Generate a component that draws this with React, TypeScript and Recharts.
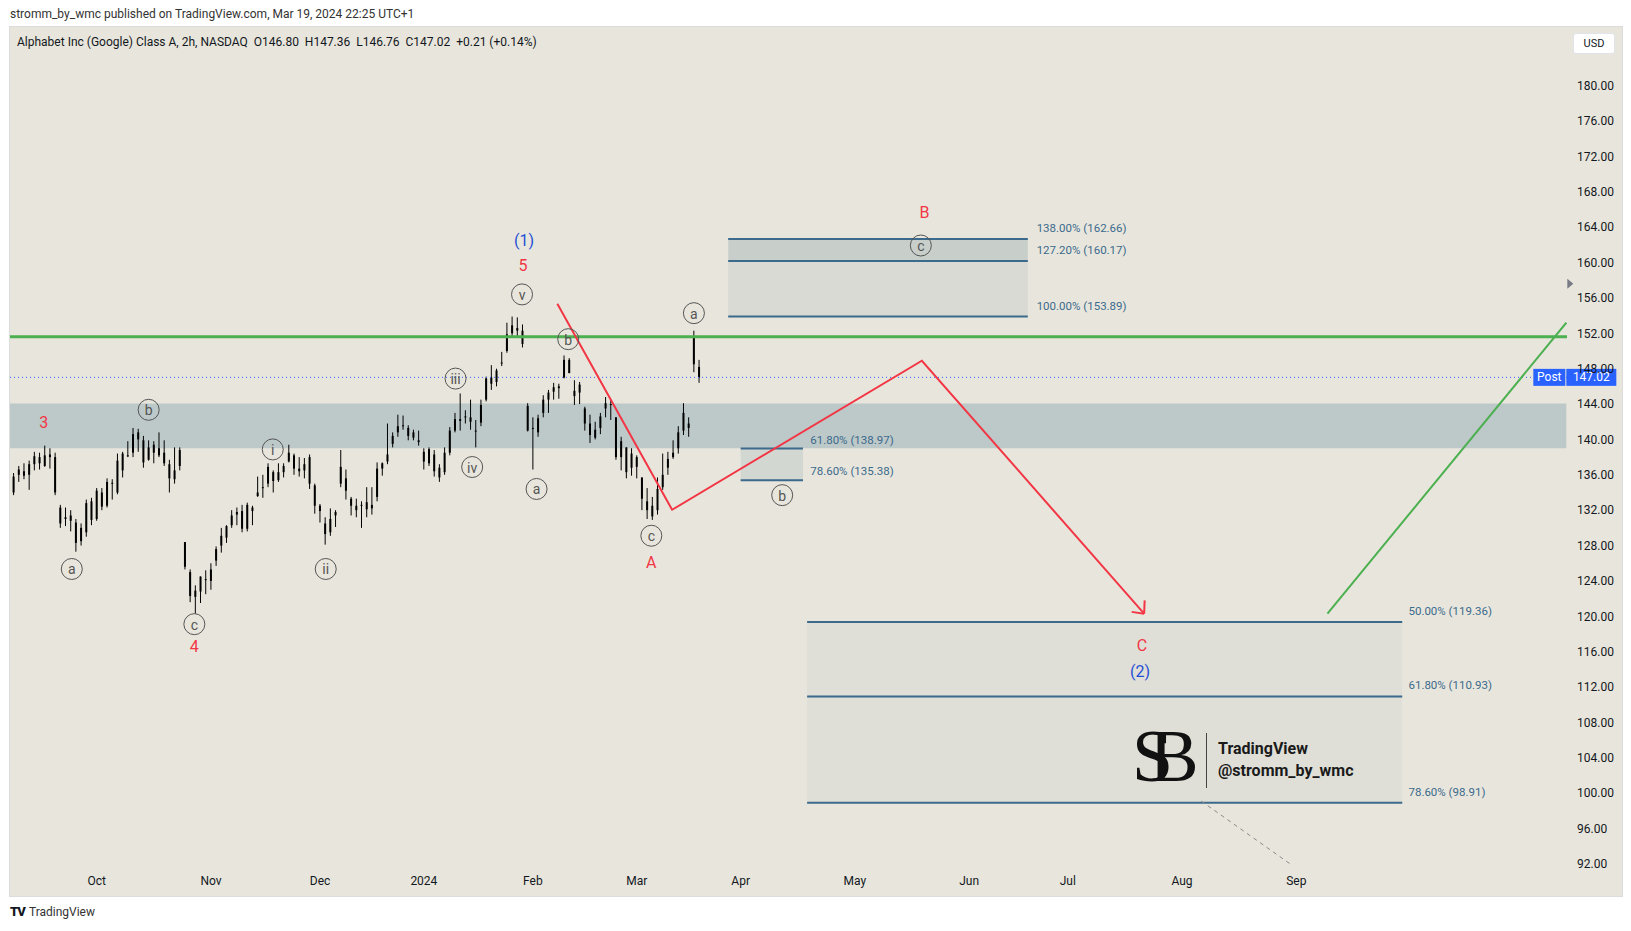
import {
  Bar,
  ComposedChart,
  Line,
  ReferenceArea,
  ReferenceDot,
  ReferenceLine,
  XAxis,
  YAxis,
} from 'recharts';

// trading-day index: 0 = Oct 2 2023, first candle is Sep 8 2023
const FIRST_DAY = -16;

const OPEN = [
  134.0, 136.0, 136.4, 136.0, 137.2, 138.0, 137.0, 138.3, 138.0, 132.3,
  131.0, 130.8, 130.6, 128.5, 129.5, 133.0, 131.0, 134.0, 132.5, 135.0,
  134.0, 136.5, 138.2, 138.5, 140.8, 139.9, 137.7, 138.5, 139.0, 138.5,
  137.2, 135.5, 137.0, 128.4, 125.0, 122.9, 122.8, 124.2, 124.0, 126.3,
  128.0, 128.9, 130.3, 131.5, 131.9, 129.9, 132.3, 134.0, 134.5, 135.0,
  136.3, 135.4, 136.3, 137.5, 138.2, 136.7, 136.5, 138.0, 134.8, 132.5,
  130.5, 129.5, 131.8, 135.0, 135.6, 132.5, 132.0, 132.5, 132.9, 132.2,
  133.5, 136.7, 137.5, 139.5, 140.8, 141.6, 141.3, 140.8, 139.9, 138.6,
  137.3, 138.3, 136.8, 136.3, 138.5, 141.0, 142.3, 142.5, 142.0, 141.0,
  141.9, 144.5, 147.0, 146.5, 148.6, 150.0, 152.0, 152.6, 152.3, 143.8,
  141.3, 140.8, 143.0, 144.5, 145.4, 145.8, 147.0, 149.0, 145.5, 145.3,
  143.5, 141.8, 140.2, 141.3, 143.5, 144.0, 142.5, 138.0, 139.1, 136.8,
  138.0, 135.7, 133.0, 132.5, 132.0, 134.6, 136.8, 138.0, 139.0, 141.0,
  141.8, 151.5, 148.2,
];
const HIGH = [
  136.2, 137.0, 137.3, 137.6, 138.6, 138.5, 139.3, 139.0, 138.5, 132.6,
  132.3, 132.0, 131.0, 130.5, 133.2, 133.4, 134.5, 134.5, 135.6, 135.5,
  138.4, 138.6, 139.8, 141.3, 141.2, 140.4, 139.9, 139.8, 140.8, 139.9,
  137.7, 139.1, 139.1, 128.4, 125.3, 123.5, 124.5, 125.2, 126.0, 127.9,
  130.0, 130.3, 132.0, 132.3, 132.6, 132.85, 132.5, 135.8, 136.0, 137.3,
  136.5, 137.3, 137.3, 139.4, 138.4, 138.0, 137.9, 138.3, 135.0, 132.7,
  131.2, 132.2, 132.0, 138.8, 136.6, 133.5, 133.3, 133.0, 134.6, 134.6,
  137.4, 137.4, 141.8, 140.8, 142.8, 142.7, 141.6, 141.1, 141.0, 139.0,
  139.1, 138.8, 137.2, 139.1, 141.4, 143.0, 145.2, 143.3, 144.5, 142.2,
  144.5, 147.1, 148.4, 148.0, 149.9, 153.2, 153.9, 153.8, 153.0, 144.1,
  142.5, 142.8, 145.0, 145.6, 146.4, 146.3, 149.5, 149.2, 146.7, 146.5,
  143.7, 142.8, 142.0, 143.0, 144.8, 144.5, 142.5, 140.3, 139.1, 139.0,
  138.2, 135.7, 134.5, 133.5, 135.7, 138.4, 138.6, 139.9, 141.5, 144.1,
  142.5, 152.3, 149.0,
];
const LOW = [
  133.7, 135.2, 135.5, 134.3, 136.5, 136.6, 136.9, 136.7, 133.7, 130.0,
  130.2, 129.6, 127.3, 128.0, 129.0, 130.3, 130.8, 132.0, 132.3, 133.2,
  133.8, 135.7, 138.0, 138.0, 138.6, 136.8, 137.6, 137.3, 138.0, 137.0,
  134.0, 135.0, 136.5, 125.3, 121.6, 120.3, 121.5, 122.5, 123.0, 125.7,
  127.2, 128.3, 130.0, 130.3, 129.5, 129.6, 130.3, 133.5, 133.4, 134.6,
  134.0, 135.2, 135.7, 137.4, 136.0, 135.8, 135.6, 134.4, 131.6, 130.6,
  128.1, 129.1, 130.1, 134.6, 133.2, 131.4, 131.2, 130.0, 131.2, 131.5,
  133.0, 135.9, 137.2, 139.1, 140.3, 141.1, 139.9, 139.9, 139.3, 136.6,
  137.0, 135.8, 135.2, 136.0, 138.2, 140.8, 141.0, 141.8, 141.1, 139.1,
  141.5, 144.3, 145.6, 146.0, 148.3, 149.8, 151.6, 151.5, 150.4, 140.9,
  136.6, 140.3, 142.5, 143.0, 144.5, 144.6, 146.9, 147.5, 143.9, 144.0,
  141.0, 139.6, 140.0, 140.6, 142.5, 142.2, 137.7, 136.5, 135.6, 135.9,
  135.6, 132.0, 131.0, 130.9, 131.5, 134.3, 136.0, 137.8, 138.4, 140.5,
  140.3, 147.6, 146.4,
];
const CLOSE = [
  135.8, 136.6, 135.9, 137.2, 138.1, 137.3, 138.2, 138.0, 134.0, 130.5,
  131.2, 131.4, 128.3, 130.0, 132.8, 130.9, 134.2, 132.4, 135.2, 135.1,
  137.6, 138.4, 138.1, 140.6, 140.0, 137.4, 139.1, 139.4, 138.2, 137.3,
  135.6, 136.5, 138.8, 125.6, 122.3, 122.2, 124.5, 124.1, 125.3, 127.6,
  129.1, 130.2, 131.4, 131.8, 129.9, 132.6, 131.9, 133.6, 134.6, 136.9,
  135.3, 136.3, 137.0, 138.5, 136.7, 136.4, 137.2, 135.0, 132.5, 131.9,
  129.3, 131.0, 131.4, 136.9, 134.2, 133.3, 132.5, 132.6, 132.1, 132.6,
  136.7, 137.3, 138.3, 140.4, 141.5, 141.5, 140.4, 140.2, 139.7, 137.5,
  138.9, 136.4, 135.7, 138.5, 141.0, 142.3, 142.1, 142.6, 142.5, 140.9,
  143.9, 146.9, 146.3, 147.8, 148.7, 151.9, 152.9, 152.3, 150.8, 141.0,
  141.2, 142.4, 144.5, 145.3, 145.9, 146.0, 149.0, 147.5, 144.9, 146.2,
  141.8, 140.5, 141.1, 142.6, 144.1, 143.9, 138.0, 139.8, 136.3, 138.4,
  136.9, 133.3, 132.0, 131.3, 134.4, 136.0, 137.8, 138.5, 140.8, 143.0,
  141.3, 148.5, 147.02,
];

const MONTH_TICKS = [0, 22, 43, 63, 84, 104, 124, 146, 168, 187, 209, 231];
const MONTH_LABELS = ['Oct', 'Nov', 'Dec', '2024', 'Feb', 'Mar', 'Apr', 'May', 'Jun', 'Jul', 'Aug', 'Sep'];
const PRICE_TICKS = [92, 96, 100, 104, 108, 112, 116, 120, 124, 128, 132, 136, 140, 144, 148, 152, 156, 160, 164, 168, 172, 176, 180];

const LAST_PRICE = 147.02;
const RESISTANCE = 151.6;
const ZONE = [139.0, 144.05];

// projected path drawn by the author
const RED_X = [88.7, 110.8, 158.9, 201.7];
const RED_Y = [155.35, 132.05, 148.9, 120.3];
const GREEN_X = [237, 283];
const GREEN_Y = [120.3, 153.2];
const DASH_X = [212.7, 229.7];
const DASH_Y = [99.1, 92.05];

// fib tools: [pct labels], [prices], [x from, x to, label x]
const FIB_UP_PCT = ['138.00%', '127.20%', '100.00%'];
const FIB_UP_PRICE = [162.66, 160.17, 153.89];
const FIB_UP_X = [121.6, 179.3, 181];
const FIB_MID_PCT = ['61.80%', '78.60%'];
const FIB_MID_PRICE = [138.97, 135.38];
const FIB_MID_X = [124, 136, 137.4];
const FIB_LOW_PCT = ['50.00%', '61.80%', '78.60%'];
const FIB_LOW_PRICE = [119.36, 110.93, 98.91];
const FIB_LOW_X = [136.8, 251.4, 252.6];

// circled minor wave labels
const CIRCLE_TEXT = ['a', 'b', 'c', 'i', 'ii', 'iii', 'iv', 'v', 'a', 'b', 'c', 'a', 'b', 'c'];
const CIRCLE_X = [-4.8, 10.0, 18.8, 33.9, 44.1, 69.1, 72.3, 81.9, 84.7, 90.8, 106.8, 115.0, 132.0, 158.7];
const CIRCLE_Y = [125.35, 143.35, 119.11, 138.87, 125.35, 146.88, 136.88, 156.4, 134.4, 151.34, 129.11, 154.28, 133.7, 161.93];

// red / blue wave labels
const WAVE_TEXT = ['3', '4', '5', '(1)', 'A', 'B', 'C', '(2)'];
const WAVE_X = [-10.2, 18.8, 82.1, 82.3, 106.8, 159.4, 201.3, 200.9];
const WAVE_Y = [141.94, 116.64, 159.69, 162.52, 126.06, 165.7, 116.75, 113.8];
const WAVE_COLOR = ['#f23645', '#f23645', '#f23645', '#1f4fd6', '#f23645', '#f23645', '#f23645', '#1f4fd6'];

const X_DOMAIN = [-16.7, 283.13];
const Y_DOMAIN = [91.31, 186.64];

const FONT = 'Roboto, "Noto Sans", sans-serif';
const FIB_BLUE = '#3b6a8c';

const candles = OPEN.map((o, k) => ({
  i: FIRST_DAY + k,
  o,
  h: HIGH[k],
  l: LOW[k],
  c: CLOSE[k],
  range: [LOW[k], HIGH[k]],
}));
const redPath = RED_X.map((i, k) => ({ i, p: RED_Y[k] }));
const greenPath = GREEN_X.map((i, k) => ({ i, p: GREEN_Y[k] }));

function Candle(props: any) {
  const { x, y, width, height, payload } = props;
  if (payload == null) return null;
  const { o, h, l, c } = payload;
  const cx = x + width / 2;
  const k = h === l ? 0 : height / (h - l);
  const top = y + (h - Math.max(o, c)) * k;
  const bot = y + (h - Math.min(o, c)) * k;
  return (
    <g>
      <line x1={cx} x2={cx} y1={y} y2={y + height} stroke="#000" strokeWidth={1} />
      <rect x={cx - 1} y={top} width={2} height={Math.max(1, bot - top)} fill="#000" />
    </g>
  );
}

const circleShape = (txt: string) => (p: any) => (
  <g>
    <circle cx={p.cx} cy={p.cy} r={10.5} fill="none" stroke="#555" strokeWidth={1} />
    <text x={p.cx} y={p.cy + 0.5} textAnchor="middle" dominantBaseline="central" fontSize={14} fill="#555" fontFamily={FONT}>
      {txt}
    </text>
  </g>
);

const textShape = (txt: string, color: string, size: number, anchor = 'middle') => (p: any) => (
  <text x={p.cx} y={p.cy} textAnchor={anchor} dominantBaseline="central" fontSize={size} fill={color} fontFamily={FONT}>
    {txt}
  </text>
);

const postShape = (p: any) => (
  <g fontFamily={FONT}>
    <rect x={p.cx - 33} y={p.cy - 8.5} width={32} height={17} fill="#2962ff" />
    <text x={p.cx - 17} y={p.cy} textAnchor="middle" dominantBaseline="central" fontSize={12} fill="#fff">Post</text>
    <rect x={p.cx} y={p.cy - 8.5} width={50} height={17} fill="#2962ff" />
    <text x={p.cx + 25} y={p.cy} textAnchor="middle" dominantBaseline="central" fontSize={12} fill="#fff">
      {LAST_PRICE.toFixed(2)}
    </text>
  </g>
);

const triShape = (p: any) => (
  <polygon points={`${p.cx + 1},${p.cy - 5} ${p.cx + 7},${p.cy} ${p.cx + 1},${p.cy + 5}`} fill="#787b86" />
);

function fibTool(pcts: string[], prices: number[], xs: number[], fills: string[], key: string, off: number) {
  const out: any[] = [];
  for (let k = 0; k < prices.length - 1; k++) {
    out.push(
      <ReferenceArea key={`${key}a${k}`} x1={xs[0]} x2={xs[1]} y1={prices[k + 1]} y2={prices[k]} fill={fills[k]} fillOpacity={1} stroke="none" />,
    );
  }
  prices.forEach((p, k) => {
    out.push(
      <ReferenceLine key={`${key}l${k}`} segment={[{ x: xs[0], y: p }, { x: xs[1], y: p }]} stroke={FIB_BLUE} strokeWidth={2} />,
    );
    out.push(
      <ReferenceDot key={`${key}t${k}`} x={xs[2]} y={p + off} r={0} shape={textShape(`${pcts[k]} (${p.toFixed(2)})`, FIB_BLUE, 11.5, 'start')} />,
    );
  });
  return out;
}

export default function App() {
  return (
    <div style={{ position: 'relative', width: 1631, height: 931, background: '#fff', fontFamily: FONT, overflow: 'hidden' }}>
      <style>{'body{margin:0}'}</style>
      <div style={{ position: 'absolute', left: 10, top: 6, fontSize: 12, color: '#333', lineHeight: '16px' }}>
        stromm_by_wmc published on TradingView.com, Mar 19, 2024 22:25 UTC+1
      </div>
      <div
        style={{
          position: 'absolute',
          left: 9,
          top: 26,
          width: 1612,
          height: 869,
          background: '#e8e6dc',
          border: '1px solid #dcdcdc',
        }}
      />
      <div style={{ position: 'absolute', left: 17, top: 34, fontSize: 12, color: '#131722', lineHeight: '16px', whiteSpace: 'pre' }}>
        {'Alphabet Inc (Google) Class A, 2h, NASDAQ  O146.80  H147.36  L146.76  C147.02  +0.21 (+0.14%)'}
      </div>
      <div
        style={{
          position: 'absolute',
          left: 1573,
          top: 33,
          width: 42,
          height: 21,
          background: '#fff',
          borderRadius: 3,
          border: '1px solid #e0e3eb',
          boxSizing: 'border-box',
          fontSize: 11,
          color: '#131722',
          textAlign: 'center',
          lineHeight: '19px',
        }}
      >
        USD
      </div>

      <div style={{ position: 'absolute', left: 0, top: 0 }}>
        <ComposedChart width={1631} height={931} data={candles} margin={{ top: 27, right: 0, bottom: 31, left: 10 }}>
          <XAxis
            type="number"
            dataKey="i"
            domain={X_DOMAIN}
            allowDataOverflow
            ticks={MONTH_TICKS}
            tickFormatter={(v) => MONTH_LABELS[MONTH_TICKS.indexOf(v)] ?? ''}
            height={30}
            axisLine={false}
            tickLine={false}
            tickSize={0}
            tickMargin={6}
            tick={{ fontSize: 12, fill: '#131722', fontFamily: FONT }}
            interval={0}
          />
          <YAxis
            orientation="right"
            width={64}
            domain={Y_DOMAIN}
            allowDataOverflow
            ticks={PRICE_TICKS}
            tickFormatter={(v) => Number(v).toFixed(2)}
            axisLine={false}
            tickLine={false}
            tickSize={0}
            tickMargin={10}
            tick={{ fontSize: 12, fill: '#131722', fontFamily: FONT }}
            interval={0}
          />

          <ReferenceArea x1={X_DOMAIN[0]} x2={283.0} y1={ZONE[0]} y2={ZONE[1]} fill="#bdc8c8" fillOpacity={1} stroke="none" />
          {fibTool(FIB_UP_PCT, FIB_UP_PRICE, FIB_UP_X, ['#c8cfca', '#d8dad3'], 'up', 1.25)}
          {fibTool(FIB_MID_PCT, FIB_MID_PRICE, FIB_MID_X, ['#d3d7d1'], 'mid', 1.0)}
          {fibTool(FIB_LOW_PCT, FIB_LOW_PRICE, FIB_LOW_X, ['#dfdfd8', '#dfdfd8'], 'low', 1.25)}

          <ReferenceLine y={RESISTANCE} stroke="#4caf50" strokeWidth={3} />
          <ReferenceLine y={LAST_PRICE} stroke="#2962ff" strokeWidth={1} strokeDasharray="1 3" />
          <ReferenceLine
            segment={[{ x: DASH_X[0], y: DASH_Y[0] }, { x: DASH_X[1], y: DASH_Y[1] }]}
            stroke="#8a8a8a"
            strokeWidth={1}
            strokeDasharray="4 4"
          />

          <Bar dataKey="range" barSize={3} shape={Candle} isAnimationActive={false} />

          <Line data={redPath} dataKey="p" stroke="#f23645" strokeWidth={2} dot={false} isAnimationActive={false} />
          <ReferenceLine segment={[{ x: RED_X[3], y: RED_Y[3] }, { x: RED_X[3] - 2.4, y: RED_Y[3] + 0.2 }]} stroke="#f23645" strokeWidth={2} />
          <ReferenceLine segment={[{ x: RED_X[3], y: RED_Y[3] }, { x: RED_X[3] + 0.1, y: RED_Y[3] + 1.5 }]} stroke="#f23645" strokeWidth={2} />
          <Line data={greenPath} dataKey="p" stroke="#4caf50" strokeWidth={2} dot={false} isAnimationActive={false} />

          {CIRCLE_TEXT.map((t, k) => (
            <ReferenceDot key={`c${k}`} x={CIRCLE_X[k]} y={CIRCLE_Y[k]} r={0} shape={circleShape(t)} />
          ))}
          {WAVE_TEXT.map((t, k) => (
            <ReferenceDot key={`w${k}`} x={WAVE_X[k]} y={WAVE_Y[k]} r={0} shape={textShape(t, WAVE_COLOR[k], 16)} />
          ))}

          <ReferenceDot x={283.0} y={LAST_PRICE} r={0} shape={postShape} />
          <ReferenceDot x={283.0} y={157.6} r={0} shape={triShape} />
        </ComposedChart>
      </div>

      {/* author watermark */}
      <div
        style={{
          position: 'absolute',
          left: 1132,
          top: 716,
          fontFamily: '"Liberation Serif", "DejaVu Serif", serif',
          fontSize: 74,
          lineHeight: '80px',
          letterSpacing: -24,
          color: '#111',
          whiteSpace: 'pre',
        }}
      >
        SB
      </div>
      <div style={{ position: 'absolute', left: 1206, top: 733, width: 1, height: 55, background: '#444' }} />
      <div style={{ position: 'absolute', left: 1218, top: 738, fontSize: 16, fontWeight: 700, color: '#1a1a1a', lineHeight: '22px' }}>
        TradingView
        <br />
        @stromm_by_wmc
      </div>

      <div style={{ position: 'absolute', left: 10, top: 904, display: 'flex', alignItems: 'center', gap: 4 }}>
        <span style={{ fontSize: 13, fontWeight: 900, color: '#131722', letterSpacing: -1 }}>TV</span>
        <span style={{ fontSize: 12, color: '#333' }}>TradingView</span>
      </div>
    </div>
  );
}
